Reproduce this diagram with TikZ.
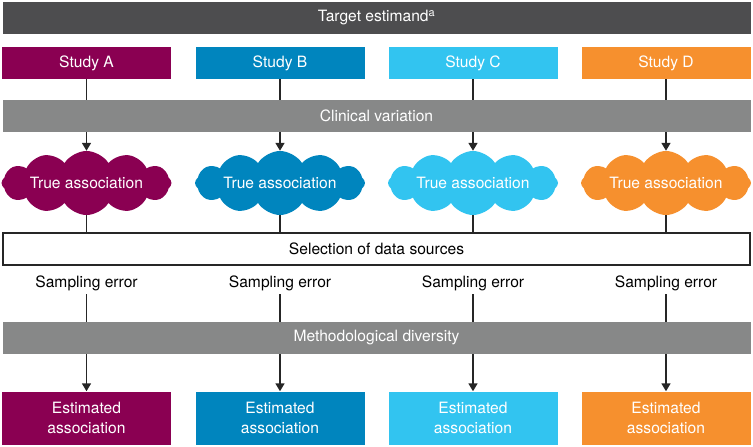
\documentclass[tikz,border=0pt]{standalone}
\usepackage{fontspec}
\setmainfont{TeX Gyre Heros}
\usetikzlibrary{arrows.meta, positioning, shapes.symbols}
\definecolor{studya}{RGB}{138,0,82}
\definecolor{studyb}{RGB}{0,133,190}
\definecolor{studyc}{RGB}{50,196,240}
\definecolor{studyd}{RGB}{246,144,46}
\definecolor{darkbar}{RGB}{77,77,79}
\definecolor{greybar}{RGB}{135,136,136}
\tikzset{
    bar/.style={fill=greybar, text=white, minimum width=748pt, minimum height=32pt, inner sep=0pt},
    study/.style={text=white, minimum width=169pt, minimum height=32pt, inner sep=0pt},
    estbox/.style={text=white, minimum width=169pt, minimum height=53pt, inner sep=0pt, align=center},
    truecloud/.style={cloud, cloud puffs=12, cloud puff arc=115, cloud ignores aspect, text=white, minimum width=170pt, minimum height=64pt, inner sep=0pt},
    link/.style={line width=1.6pt, draw=black!85},
    flow/.style={link, -{Triangle[width=9pt,length=8pt]}}
}

\begin{document}
\begin{tikzpicture}[x=1pt, y=-1pt, font=\fontsize{15.6}{19.5}\selectfont]
    \useasboundingbox (0,0) rectangle (753,447);
    \node[bar, fill=darkbar] (target) at (376.5,17.5) {Target estimand\textsuperscript{a}};
    \node[study, fill=studya] (studyA) at (86.5,63) {Study A};
    \node[study, fill=studyb] (studyB) at (280,63) {Study B};
    \node[study, fill=studyc] (studyC) at (473,63) {Study C};
    \node[study, fill=studyd] (studyD) at (666,63) {Study D};
    \node[bar] (clinical) at (376.5,116) {Clinical variation};
    \node[truecloud, fill=studya] (trueA) at (86.5,183) {True association};
    \node[truecloud, fill=studyb] (trueB) at (280,183) {True association};
    \node[truecloud, fill=studyc] (trueC) at (473,183) {True association};
    \node[truecloud, fill=studyd] (trueD) at (666,183) {True association};
    \node[bar, fill=white, draw=black!85, line width=1.2pt, text=black, minimum width=747pt] (selection) at (376.5,249) {Selection of data sources};
    \node (errA) at (86.5,283) {Sampling error};
    \node (errB) at (280,283) {Sampling error};
    \node (errC) at (473,283) {Sampling error};
    \node (errD) at (666,283) {Sampling error};
    \node[bar] (method) at (376.5,338) {Methodological diversity};
    \node[estbox, fill=studya] (estA) at (86.5,418) {Estimated\\association};
    \node[estbox, fill=studyb] (estB) at (280,418) {Estimated\\association};
    \node[estbox, fill=studyc] (estC) at (473,418) {Estimated\\association};
    \node[estbox, fill=studyd] (estD) at (666,418) {Estimated\\association};

    \draw[link] (studyA) -- (studyA |- clinical.north);
    \draw[link] (studyB) -- (studyB |- clinical.north);
    \draw[link] (studyC) -- (studyC |- clinical.north);
    \draw[link] (studyD) -- (studyD |- clinical.north);
    \draw[flow] (studyA |- clinical.south) -- (trueA);
    \draw[flow] (studyB |- clinical.south) -- (trueB);
    \draw[flow] (studyC |- clinical.south) -- (trueC);
    \draw[flow] (studyD |- clinical.south) -- (trueD);
    \draw[link] (trueA) -- (trueA |- selection.north);
    \draw[link] (trueB) -- (trueB |- selection.north);
    \draw[link] (trueC) -- (trueC |- selection.north);
    \draw[link] (trueD) -- (trueD |- selection.north);
    \draw[link] (errA) -- (errA |- method.north);
    \draw[link] (errB) -- (errB |- method.north);
    \draw[link] (errC) -- (errC |- method.north);
    \draw[link] (errD) -- (errD |- method.north);
    \draw[flow] (errA |- method.south) -- (estA);
    \draw[flow] (errB |- method.south) -- (estB);
    \draw[flow] (errC |- method.south) -- (estC);
    \draw[flow] (errD |- method.south) -- (estD);
\end{tikzpicture}
\end{document}
